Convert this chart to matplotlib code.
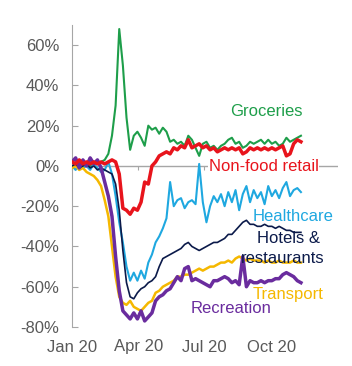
import matplotlib

matplotlib.use("Agg")
import matplotlib.pyplot as plt
import matplotlib.dates as mdates
import pandas as pd

# 5-day steps from 1 Jan 2020, % change vs baseline
dates = pd.date_range("2020-01-01", periods=64, freq="5D")

groceries = [0, 1, 2, 0, 1, 0, 2, 1, 2, 3, 6, 15, 30, 68, 50, 24, 8, 15, 17, 14,
             10, 20, 18, 19, 16, 19, 17, 12, 13, 11, 12, 10, 15, 13, 9, 5, 11, 12, 9, 10,
             8, 10, 11, 13, 14, 11, 12, 9, 10, 12, 11, 12, 13, 11, 13, 11, 12, 10, 11, 14,
             12, 13, 14, 15]
non_food = [2, 1, 3, 1, 2, 1, 2, 1, 2, 1, 2, 3, 2, -4, -21, -22, -24, -21, -22, -18,
            -8, -9, 0, 2, 5, 6, 7, 6, 9, 8, 10, 9, 13, 9, 10, 11, 9, 10, 8, 9,
            7, 8, 9, 8, 9, 8, 9, 6, 7, 9, 8, 9, 8, 9, 8, 9, 8, 9, 10, 5,
            6, 11, 13, 12]
healthcare = [0, -2, 1, -1, 0, -2, 1, -1, -3, -2, 2, -4, -15, -28, -38, -50, -57, -53, -57, -52,
              -56, -48, -44, -38, -35, -31, -26, -8, -20, -17, -16, -21, -18, -17, -19, 1, -18, -28, -20, -15,
              -18, -14, -20, -13, -18, -12, -22, -14, -10, -18, -12, -16, -13, -19, -10, -15, -12, -16, -11, -8,
              -15, -12, -11, -13]
hotels = [0, 1, -1, 0, 1, -1, 0, -2, -1, -2, -3, -4, -9, -22, -42, -58, -65, -66, -63, -61,
          -60, -58, -57, -55, -50, -46, -45, -44, -43, -42, -41, -39, -38, -40, -41, -42, -41, -40, -39, -38,
          -38, -37, -36, -34, -34, -32, -30, -28, -27, -29, -29, -30, -30, -29, -30, -30, -31, -30, -31, -32,
          -32, -33, -33, -33]
transport = [-1, 0, -2, -1, -3, -4, -5, -7, -10, -17, -25, -40, -55, -65, -68, -69, -67, -70, -71, -72,
             -70, -68, -67, -63, -62, -60, -59, -58, -57, -55, -55, -54, -54, -53, -52, -51, -52, -51, -50, -50,
             -49, -48, -48, -47, -48, -46, -45, -46, -47, -46, -47, -47, -47, -48, -47, -48, -48, -47, -48, -48,
             -48, -47, -48, -48]
recreation = [2, 4, -1, 3, 0, 4, 1, 3, -1, -8, -15, -25, -45, -62, -72, -74, -76, -73, -76, -72,
              -77, -75, -73, -67, -65, -64, -62, -61, -58, -55, -57, -51, -50, -57, -56, -57, -58, -59, -60, -57,
              -57, -56, -55, -56, -58, -57, -59, -45, -60, -57, -58, -58, -57, -58, -57, -57, -56, -56, -54, -53,
              -54, -55, -57, -58]

GREEN = "#1e9e4a"
RED = "#e8141c"
BLUE = "#1fa8e0"
NAVY = "#0b1a4a"
GOLD = "#f5b800"
PURPLE = "#6a2c9e"
AXIS = "#a6a6a6"
TICK_TEXT = "#595959"

plt.rcParams["font.family"] = ["Liberation Sans", "DejaVu Sans"]

fig = plt.figure(figsize=(3.52, 3.66), dpi=100)
ax = fig.add_axes([72 / 352, 39 / 366, 266 / 352, 302 / 366])

ax.axhline(0, color=AXIS, lw=1, zorder=1.5)
ax.plot(dates, groceries, color=GREEN, lw=1.5, zorder=2)
ax.plot(dates, healthcare, color=BLUE, lw=1.5, zorder=2)
ax.plot(dates, transport, color=GOLD, lw=1.8, zorder=3)
ax.plot(dates, hotels, color=NAVY, lw=1.2, zorder=4)
ax.plot(dates, recreation, color=PURPLE, lw=2.5, zorder=4)
ax.plot(dates, non_food, color=RED, lw=2.5, zorder=5)

ax.set_xlim(pd.Timestamp("2020-01-01"), pd.Timestamp("2021-01-01"))
ax.set_ylim(-80, 70)

for side in ["top", "right", "bottom"]:
    ax.spines[side].set_visible(False)
ax.spines["left"].set_color(AXIS)

ax.set_yticks(range(-80, 61, 20))
ax.set_yticklabels([f"{v}%" for v in range(-80, 61, 20)])
ax.tick_params(axis="y", direction="in", length=4, color=AXIS, pad=9,
               labelsize=12, labelcolor=TICK_TEXT)

xticks = pd.to_datetime(["2020-01-01", "2020-04-01", "2020-07-01", "2020-10-01"])
ax.set_xticks(xticks)
ax.xaxis.set_major_formatter(mdates.DateFormatter("%b %y"))
ax.tick_params(axis="x", length=0, pad=9, labelsize=12, labelcolor=TICK_TEXT)

# small tick marks on the zero line
zero = ax.secondary_xaxis(80 / 150)
for side in zero.spines:
    zero.spines[side].set_visible(False)
zero.set_xticks(xticks)
zero.tick_params(axis="x", direction="in", length=3, color=AXIS,
                 labelbottom=False, labeltop=False)

labels = [
    ("Groceries", "2020-08-06", 27, GREEN, None),
    ("Non-food retail", "2020-07-07", -0.5, RED, "white"),
    ("Healthcare", "2020-09-06", -25, BLUE, None),
    ("Hotels &", "2020-09-11", -36, NAVY, None),
    ("restaurants", "2020-08-20", -46, NAVY, None),
    ("Transport", "2020-09-06", -64, GOLD, None),
    ("Recreation", "2020-06-12", -71, PURPLE, None),
]
for text, day, y, color, bg in labels:
    kw = {}
    if bg:
        kw["bbox"] = dict(facecolor=bg, edgecolor="none", pad=0.5)
    ax.text(pd.Timestamp(day), y, text, color=color, fontsize=12,
            ha="left", va="center", zorder=6, **kw)

fig.savefig("out.png", dpi=100)
plt.close(fig)
